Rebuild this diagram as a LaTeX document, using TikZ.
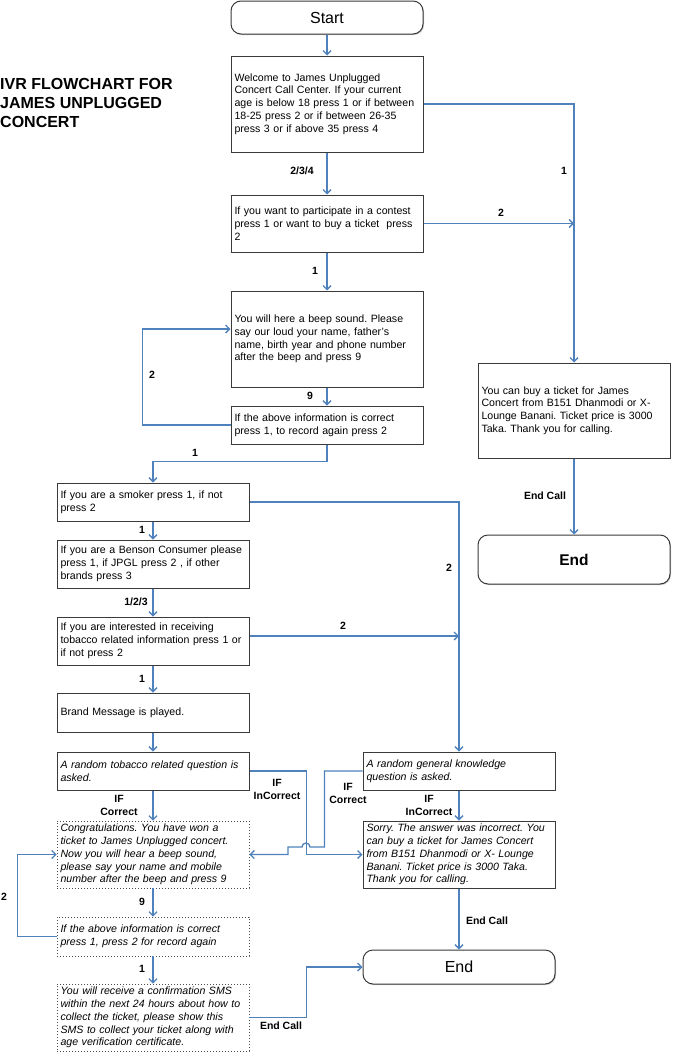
\documentclass[tikz,border=0pt]{standalone}
\usepackage{fontspec}
\setmainfont{Liberation Sans}
\usetikzlibrary{arrows.meta,shadows,calc}
\definecolor{linkblue}{HTML}{4F81BD}
\definecolor{boxline}{HTML}{3A3A3A}
\begin{document}
\frenchspacing
\begin{tikzpicture}[x=1pt,y=-1pt,
  shadowed/.style={drop shadow={shadow xshift=1pt,shadow yshift=-1pt,fill=black!45}},
  boxbase/.style={draw=boxline, line width=1pt, fill=white, text width=185pt,
    inner xsep=3.5pt, inner ysep=1pt, align=left,
    font=\fontsize{10.6}{12.8}\selectfont},
  box/.style={boxbase, shadowed},
  ibox/.style={boxbase, shadowed, font=\fontsize{10.6}{12.8}\selectfont\itshape},
  dbox/.style={boxbase, draw=black!70, dotted, line width=0.8pt,
    font=\fontsize{10.6}{12.8}\selectfont\itshape},
  term/.style={draw=boxline, line width=1pt, fill=white, rounded corners=10pt,
    minimum width=192pt, inner sep=0pt, shadowed},
  flow/.style={draw=linkblue, line width=1.3pt, -{Straight Barb[length=4pt,width=8pt]}},
  lbl/.style={font=\fontsize{10.5}{13}\selectfont\bfseries, inner sep=0pt, align=center}
]
\useasboundingbox (0,0) rectangle (672,1052);

% title
\node[lbl, anchor=west, align=left, font=\fontsize{16}{19}\selectfont\bfseries] (title) at (0,103)
  {IVR FLOWCHART FOR\\JAMES UNPLUGGED\\CONCERT};

% main column
\node[term, minimum height=33pt, font=\fontsize{16}{18}\selectfont] (start) at (327,17.5) {Start};
\node[box, minimum height=96pt] (welcome) at (327,104)
  {Welcome to James Unplugged\\Concert Call Center. If your current\\age is below 18 press 1 or if between\\18-25 press 2 or if between 26-35\\press 3 or if above 35 press 4};
\node[box, minimum height=57pt] (contest) at (327,223.5)
  {If you want to participate in a contest\\press 1 or want to buy a ticket\ \ press\\2};
\node[box, minimum height=96pt] (beep) at (327,339)
  {You will here a beep sound. Please\\say our loud your name, father's\\name, birth year and phone number\\after the beep and press 9};
\node[box, minimum height=38pt] (confirm) at (327,425)
  {If the above information is correct\\press 1, to record again press 2};

% right column
\node[box, minimum height=95pt] (ticket) at (574,410.5)
  {You can buy a ticket for James\\Concert from B151 Dhanmodi or X-\\Lounge Banani. Ticket price is 3000\\Taka. Thank you for calling.};
\node[term, minimum height=49pt, font=\fontsize{15.5}{18}\selectfont\bfseries] (endA) at (574,559.5) {End};

% left column
\node[box, minimum height=38pt] (smoker) at (153,502)
  {If you are a smoker press 1, if not\\press 2};
\node[box, minimum height=48pt] (benson) at (153,564)
  {\mbox{If you are a Benson Consumer please}\\press 1, if JPGL press 2 , if other\\brands press 3};
\node[box, minimum height=48pt] (interest) at (153,641)
  {If you are interested in receiving\\\mbox{tobacco related information press 1 or}\\if not press 2};
\node[box, minimum height=39pt] (brand) at (153,712.5)
  {Brand Message is played.};
\node[ibox, minimum height=38pt] (tobq) at (153,771)
  {A random tobacco related question is\\asked.};
\node[ibox, minimum height=38pt] (gkq) at (459,771)
  {A random general knowledge\\question is asked.};
\node[dbox, minimum height=67pt] (congrats) at (153,854.5)
  {Congratulations. You have won a\\ticket to James Unplugged concert.\\Now you will hear a beep sound,\\please say your name and mobile\\number after the beep and press 9};
\node[ibox, minimum height=67pt] (sorry) at (459,854.5)
  {\mbox{Sorry. The answer was incorrect. You}\\can buy a ticket for James Concert\\from B151 Dhanmodi or X- Lounge\\Banani. Ticket price is 3000 Taka.\\Thank you for calling.};
\node[dbox, minimum height=39pt] (confirm2) at (153,936.5)
  {If the above information is correct\\press 1, press 2 for record again};
\node[dbox, minimum height=67pt] (sms) at (153,1017.5)
  {You will receive a confirmation SMS\\\mbox{within the next 24 hours about how to}\\collect the ticket, please show this\\SMS to collect your ticket along with\\age verification certificate.};
\node[term, minimum height=34pt, font=\fontsize{16}{18}\selectfont] (endB) at (459,967) {End};

% connectors
\draw[flow] (start.south) -- (welcome.north);
\draw[flow] (welcome.south) -- (contest.north);
\draw[flow] (welcome.east) -| (ticket.north);
\draw[flow] (contest.east) -- (contest.east -| ticket.north);
\draw[flow] (contest.south) -- (beep.north);
\draw[flow] (beep.south) -- (confirm.north);
\draw[flow] (confirm.west) -- ++(-88,0) |- ([yshift=10pt]beep.west);
\draw[flow] (confirm.south) -- ++(0,17) -| (smoker.north);
\draw[flow] (ticket.south) -- (endA.north);
\draw[flow] (smoker.east) -| (gkq.north);
\draw[flow] (smoker.south) -- (benson.north);
\draw[flow] (benson.south) -- (interest.north);
\draw[flow] ([yshift=5pt]interest.east) -- ([yshift=5pt]interest.east -| gkq.north);
\draw[flow] (interest.south) -- (brand.north);
\draw[flow] (brand.south) -- (tobq.north);
\draw[flow] (tobq.south) -- (congrats.north);
\draw[flow] (tobq.east) -- ++(57,0) |- (sorry.west);
\draw[flow] (gkq.west) -- ++(-38,0) |- (310,847)
  arc[start angle=0, end angle=180, radius=4pt] -- (288,847) |- (congrats.east);
\draw[flow] (gkq.south) -- (sorry.north);
\draw[flow] (congrats.south) -- (confirm2.north);
\draw[flow] (confirm2.west) -- ++(-39,0) |- (congrats.west);
\draw[flow] (confirm2.south) -- (sms.north);
\draw[flow] (sorry.south) -- (endB.north);
\draw[flow] (sms.east) -- ++(57,0) |- (endB.west);

% labels
\node[lbl] (l234) at (302,171) {2/3/4};
\node[lbl] (lw1) at (564,171) {1};
\node[lbl] (lc2) at (501,213) {2};
\node[lbl] (lc1) at (315,271) {1};
\node[lbl] (lb9) at (310,396) {9};
\node[lbl] (lr2) at (152,375) {2};
\node[lbl] (lf1) at (195,453) {1};
\node[lbl] (lec1) at (545,496) {End Call};
\node[lbl] (ls2) at (449,568) {2};
\node[lbl] (ls1) at (142,530) {1};
\node[lbl] (l123) at (136,602) {1/2/3};
\node[lbl] (li2) at (343,626) {2};
\node[lbl] (li1) at (142,679) {1};
\node[lbl] (lic) at (119,805.5) {IF\\Correct};
\node[lbl] (lii) at (277,789) {IF\\InCorrect};
\node[lbl] (lgc) at (348,793.5) {IF\\Correct};
\node[lbl] (lgi) at (429,805.5) {IF\\InCorrect};
\node[lbl] (lc9) at (142,902) {9};
\node[lbl] (lr22) at (4,897) {2};
\node[lbl] (lf21) at (142,969) {1};
\node[lbl] (lec2) at (487,921) {End Call};
\node[lbl] (lec3) at (281,1026) {End Call};
\end{tikzpicture}
\end{document}
